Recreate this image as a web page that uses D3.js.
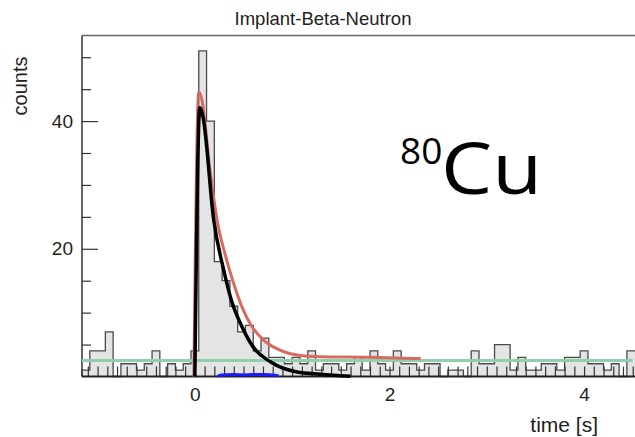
<!DOCTYPE html>
<html>
<head>
<meta charset="utf-8">
<script src="https://cdn.jsdelivr.net/npm/d3@7"></script>
<style>
  html, body { margin: 0; padding: 0; background: #ffffff; }
  svg { display: block; }
</style>
</head>
<body>
<svg id="chart" width="635" height="437"></svg>
<script>
// ---------------- data ----------------
const title = "Implant-Beta-Neutron";
const xLabel = "time [s]";
const yLabel = "counts";
const isotopeMass = "80";
const isotopeSymbol = "Cu";

const binStart = -1.16;   // s, left edge of first bin
const binWidth = 0.08;    // s
const binCounts = [
  1, 4, 4, 7, 0, 2, 2, 1, 2, 4,
  0, 2, 1, 2, 4, 51, 40, 18, 15, 11,
  7, 8, 4, 6, 3, 3, 2, 3, 2, 4,
  1, 2, 2, 1, 2, 3, 1, 4, 2, 1,
  4, 2, 2, 1, 2, 2, 0, 1, 1, 0,
  4, 2, 2, 5, 5, 1, 3, 1, 1, 2,
  2, 1, 3, 3, 4, 2, 2, 1, 2, 0,
  4, 4
];

// fit curves: [time (s), counts]
const totalFit = [
  [-0.01, 0], [0.04, 44.6], [0.074, 43.2], [0.15, 33], [0.228, 24.5], [0.313, 19.0],
  [0.398, 14.6], [0.484, 10.9], [0.587, 7.8], [0.706, 5.7], [0.879, 4.1],
  [1.085, 3.3], [1.29, 3.1], [1.8, 3.0], [2.32, 2.8]
];
const decayFit = [
  [0.0, 0], [0.05, 42.1], [0.085, 40.5], [0.194, 24.5], [0.296, 16.7], [0.38, 11.7],
  [0.484, 7.8], [0.6, 4.6], [0.776, 2.3], [1.05, 0.7], [1.29, 0.36], [1.6, 0.05]
];
const daughterFit = [
  [0.23, 0.0], [0.27, 0.25], [0.4, 0.3], [0.5, 0.25], [0.6, 0.3], [0.7, 0.3], [0.86, 0.1]
];
const backgroundFit = [[-1.16, 2.5], [4.5, 2.5]];

const xTickLabels = [0, 2, 4];
const yTickLabels = [20, 40];

// ---------------- layout ----------------
const svg = d3.select("#chart");
const plotLeft = 82, plotTop = 35.5, plotBottom = 376.5;
const x = d3.scaleLinear().domain([-1.16, 4.64]).range([plotLeft, plotLeft + 5.80 * 97.3]);
const y = d3.scaleLinear().domain([0, 53.4]).range([plotBottom, plotTop]);

const font = "'Liberation Sans', Arial, Helvetica, sans-serif";

// histogram
const edges = binCounts.map((c, i) => binStart + i * binWidth);
const histPts = binCounts.map((c, i) => [edges[i], c]);
histPts.push([binStart + binCounts.length * binWidth, binCounts[binCounts.length - 1]]);

const area = d3.area().x(d => x(d[0])).y0(y(0)).y1(d => y(d[1])).curve(d3.curveStepAfter);
svg.append("path").datum(histPts).attr("d", area).attr("fill", "#e4e4e4");

const outlinePts = [[binStart, 0]];
binCounts.forEach((c, i) => { outlinePts.push([edges[i], c]); outlinePts.push([edges[i] + binWidth, c]); });
svg.append("path").datum(outlinePts)
  .attr("d", d3.line().x(d => x(d[0])).y(d => y(d[1])))
  .attr("fill", "none").attr("stroke", "#4a4a4a").attr("stroke-width", 1.3);

// axes (ticks inside)
const xMinor = d3.range(-11, 47).map(v => v / 10);
svg.append("g").attr("transform", `translate(0,${plotBottom})`)
  .call(d3.axisBottom(x).tickValues(xMinor).tickSize(-10).tickFormat(""))
  .call(g => g.select(".domain").remove())
  .selectAll("line").attr("stroke", "#333").attr("stroke-width", 1.2);

const yMinor = [5, 10, 15, 25, 30, 35, 45, 50];
svg.append("g").attr("transform", `translate(${plotLeft},0)`)
  .call(d3.axisLeft(y).tickValues(yMinor).tickSize(-9).tickFormat(""))
  .call(g => g.select(".domain").remove())
  .selectAll("line").attr("stroke", "#333").attr("stroke-width", 1.2);

const yAx = svg.append("g").attr("transform", `translate(${plotLeft},0)`)
  .call(d3.axisLeft(y).tickValues(yTickLabels).tickSize(-16).tickPadding(9).tickFormat(d3.format("d")));
yAx.select(".domain").remove();
yAx.selectAll("line").attr("stroke", "#333").attr("stroke-width", 1.2);
yAx.selectAll("text").attr("font-family", font).attr("font-size", 19).attr("fill", "#222");

const xAx = svg.append("g").attr("transform", `translate(0,${plotBottom})`)
  .call(d3.axisBottom(x).tickValues(xTickLabels).tickSize(0).tickPadding(11).tickFormat(d3.format("d")));
xAx.select(".domain").remove();
xAx.selectAll("text").attr("font-family", font).attr("font-size", 19).attr("fill", "#222");

// frame
svg.append("line").attr("x1", plotLeft).attr("x2", 640).attr("y1", plotTop).attr("y2", plotTop)
  .attr("stroke", "#666").attr("stroke-width", 1.5);
svg.append("line").attr("x1", plotLeft).attr("x2", plotLeft).attr("y1", plotTop).attr("y2", plotBottom)
  .attr("stroke", "#333").attr("stroke-width", 1.5);
svg.append("line").attr("x1", plotLeft).attr("x2", 640).attr("y1", plotBottom).attr("y2", plotBottom)
  .attr("stroke", "#222").attr("stroke-width", 2);

// fit curves
const fitLine = d3.line().x(d => x(d[0])).y(d => y(d[1])).curve(d3.curveMonotoneX);
const straight = d3.line().x(d => x(d[0])).y(d => y(d[1]));
svg.append("path").datum(backgroundFit).attr("d", straight)
  .attr("fill", "none").attr("stroke", "#8fcfae").attr("stroke-width", 3);
svg.append("path").datum(daughterFit).attr("d", fitLine)
  .attr("fill", "none").attr("stroke", "#1a1aff").attr("stroke-width", 3);
svg.append("path").datum(totalFit).attr("d", fitLine)
  .attr("fill", "none").attr("stroke", "#d86a60").attr("stroke-width", 3);
svg.append("path").datum(decayFit).attr("d", fitLine)
  .attr("fill", "none").attr("stroke", "#000").attr("stroke-width", 3.5);

// texts
svg.append("text").attr("x", 323).attr("y", 25).attr("text-anchor", "middle")
  .attr("font-family", font).attr("font-size", 18.5).attr("fill", "#222").text(title);
svg.append("text").attr("transform", "translate(27,86) rotate(-90)").attr("text-anchor", "middle")
  .attr("font-family", font).attr("font-size", 20).attr("fill", "#222").text(yLabel);
svg.append("text").attr("x", 598).attr("y", 432).attr("text-anchor", "end")
  .attr("font-family", font).attr("font-size", 21).attr("fill", "#222").text(xLabel);

const isoFont = "'Open Sans', 'Noto Sans', sans-serif";
svg.append("text").attr("x", 400).attr("y", 164)
  .attr("font-family", isoFont).attr("font-size", 37).attr("fill", "#000").text(isotopeMass);
svg.append("text").attr("transform", "translate(441,194) scale(1.13,1)")
  .attr("font-family", isoFont).attr("font-size", 72).attr("fill", "#000").text(isotopeSymbol);
</script>
</body>
</html>
